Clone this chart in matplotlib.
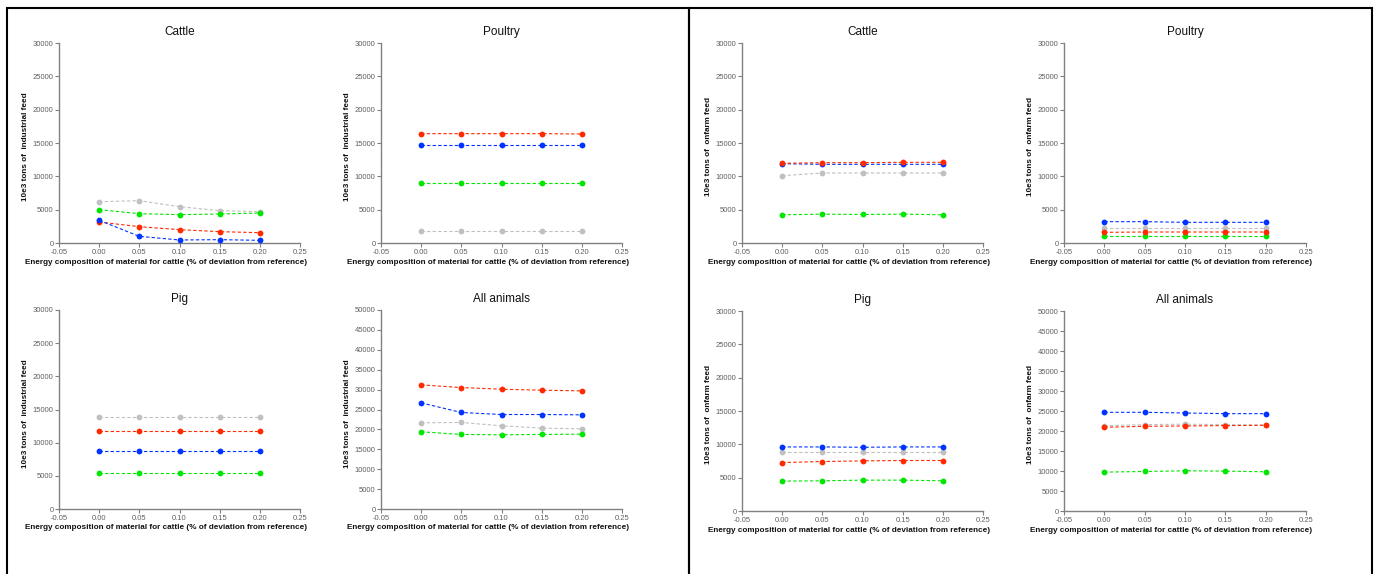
import matplotlib
matplotlib.use("Agg")
import matplotlib.pyplot as plt
from matplotlib.patches import Rectangle

plt.rcParams['font.family'] = ['Liberation Sans', 'DejaVu Sans']

x_vals = [0.00, 0.05, 0.10, 0.15, 0.20]
x_ticks = [-0.05, 0.00, 0.05, 0.10, 0.15, 0.20, 0.25]
x_tick_labels = ["-0.05", "0.00", "0.05", "0.10", "0.15", "0.20", "0.25"]

xlabel = "Energy composition of material for cattle (% of deviation from reference)"
ylabel_ind = "10e3 tons of  industrial feed"
ylabel_onf = "10e3 tons of  onfarm feed"

# Industrial feed
ind_cattle_gray = [6200, 6350, 5450, 4850, 4700]
ind_cattle_green = [5000, 4400, 4250, 4350, 4500]
ind_cattle_red = [3150, 2450, 2000, 1700, 1550]
ind_cattle_blue = [3400, 1000, 450, 500, 400]

ind_poultry_red = [16400, 16400, 16400, 16400, 16350]
ind_poultry_blue = [14650, 14650, 14650, 14650, 14650]
ind_poultry_green = [9050, 9050, 9050, 9050, 9050]
ind_poultry_gray = [1750, 1750, 1750, 1750, 1750]

ind_pig_gray = [13850, 13850, 13850, 13850, 13850]
ind_pig_red = [11700, 11700, 11700, 11700, 11700]
ind_pig_blue = [8680, 8680, 8680, 8680, 8680]
ind_pig_green = [5370, 5370, 5370, 5370, 5370]

ind_all_red = [31180, 30510, 30100, 29850, 29680]
ind_all_blue = [26670, 24250, 23740, 23740, 23660]
ind_all_gray = [21650, 21740, 20900, 20320, 20150]
ind_all_green = [19400, 18730, 18640, 18730, 18810]

# On-farm feed
onf_cattle_red = [11950, 12050, 12050, 12100, 12100]
onf_cattle_blue = [11900, 11800, 11800, 11800, 11800]
onf_cattle_gray = [10100, 10500, 10500, 10500, 10500]
onf_cattle_green = [4230, 4330, 4280, 4330, 4230]

onf_poultry_blue = [3200, 3200, 3100, 3100, 3100]
onf_poultry_gray = [2300, 2300, 2300, 2300, 2300]
onf_poultry_red = [1600, 1650, 1650, 1650, 1650]
onf_poultry_green = [1050, 1050, 1050, 1050, 1050]

onf_pig_blue = [9610, 9610, 9560, 9610, 9610]
onf_pig_gray = [8880, 8880, 8880, 8880, 8880]
onf_pig_red = [7270, 7420, 7520, 7570, 7570]
onf_pig_green = [4480, 4530, 4630, 4630, 4530]

onf_all_blue = [24670, 24670, 24500, 24340, 24340]
onf_all_gray = [21300, 21600, 21700, 21600, 21500]
onf_all_red = [20930, 21180, 21260, 21350, 21430]
onf_all_green = [9720, 9880, 10050, 9970, 9800]

C_RED = "#ff2a00"
C_BLUE = "#0033ff"
C_GREEN = "#00e600"
C_GRAY = "#c0c0c0"

W, H = 1378, 574
fig = plt.figure(figsize=(W / 100, H / 100), dpi=100)


def add_ax(x0, y0, x1, y1):
    return fig.add_axes([x0 / W, 1 - y1 / H, (x1 - x0) / W, (y1 - y0) / H])


def draw(ax, title, series, ymax, ylabel):
    for vals, col in series:
        ax.plot(x_vals, vals, linestyle=(0, (3, 2)), linewidth=0.8, color=col,
                marker="o", markersize=4.2, markeredgewidth=0, zorder=3)
    ax.set_xlim(-0.05, 0.25)
    ax.set_ylim(0, ymax)
    ax.set_xticks(x_ticks)
    ax.set_xticklabels(x_tick_labels)
    ax.set_yticks(list(range(0, ymax + 1, 5000)))
    ax.set_yticklabels([str(v) for v in range(0, ymax + 1, 5000)])
    for s in ["top", "right"]:
        ax.spines[s].set_visible(False)
    for s in ["left", "bottom"]:
        ax.spines[s].set_color("#808080")
        ax.spines[s].set_linewidth(1.0)
    ax.tick_params(axis="both", direction="out", length=3, width=0.8,
                   color="#808080", labelsize=5.5, labelcolor="#606060", pad=1)
    ax.set_title(title, fontsize=8.5, pad=6, color="#111111")
    ax.set_xlabel(xlabel, fontsize=5.9, color="#111111", fontweight="bold")
    ax.xaxis.set_label_coords(0.444, -0.095)
    ax.set_ylabel(ylabel, fontsize=5.9, color="#111111", fontweight="bold")
    ax.yaxis.set_label_coords(-0.14, 0.48)
    ax.xaxis.label.set_va("center")
    ax.yaxis.label.set_va("center")


ax = add_ax(59, 43, 300, 243)
draw(ax, "Cattle", [(ind_cattle_gray, C_GRAY), (ind_cattle_green, C_GREEN),
                    (ind_cattle_red, C_RED), (ind_cattle_blue, C_BLUE)], 30000, ylabel_ind)
ax = add_ax(381, 43, 622, 243)
draw(ax, "Poultry", [(ind_poultry_gray, C_GRAY), (ind_poultry_green, C_GREEN),
                     (ind_poultry_blue, C_BLUE), (ind_poultry_red, C_RED)], 30000, ylabel_ind)
ax = add_ax(59, 310, 300, 509)
draw(ax, "Pig", [(ind_pig_gray, C_GRAY), (ind_pig_green, C_GREEN),
                 (ind_pig_blue, C_BLUE), (ind_pig_red, C_RED)], 30000, ylabel_ind)
ax = add_ax(381, 310, 622, 509)
draw(ax, "All animals", [(ind_all_gray, C_GRAY), (ind_all_green, C_GREEN),
                         (ind_all_blue, C_BLUE), (ind_all_red, C_RED)], 50000, ylabel_ind)

ax = add_ax(742, 43, 983, 243)
draw(ax, "Cattle", [(onf_cattle_gray, C_GRAY), (onf_cattle_green, C_GREEN),
                    (onf_cattle_blue, C_BLUE), (onf_cattle_red, C_RED)], 30000, ylabel_onf)
ax = add_ax(1064, 43, 1306, 243)
draw(ax, "Poultry", [(onf_poultry_gray, C_GRAY), (onf_poultry_green, C_GREEN),
                     (onf_poultry_red, C_RED), (onf_poultry_blue, C_BLUE)], 30000, ylabel_onf)
ax = add_ax(742, 311, 983, 511)
draw(ax, "Pig", [(onf_pig_gray, C_GRAY), (onf_pig_green, C_GREEN),
                 (onf_pig_red, C_RED), (onf_pig_blue, C_BLUE)], 30000, ylabel_onf)
ax = add_ax(1064, 311, 1306, 511)
draw(ax, "All animals", [(onf_all_gray, C_GRAY), (onf_all_green, C_GREEN),
                         (onf_all_red, C_RED), (onf_all_blue, C_BLUE)], 50000, ylabel_onf)

# panel borders
for (x0, x1) in [(7, 689), (689, 1372)]:
    fig.add_artist(Rectangle((x0 / W, -0.05), (x1 - x0) / W, 1.05 - 8 / H,
                             transform=fig.transFigure, fill=False,
                             edgecolor="black", linewidth=1.5))

fig.savefig("out.png", dpi=100)
